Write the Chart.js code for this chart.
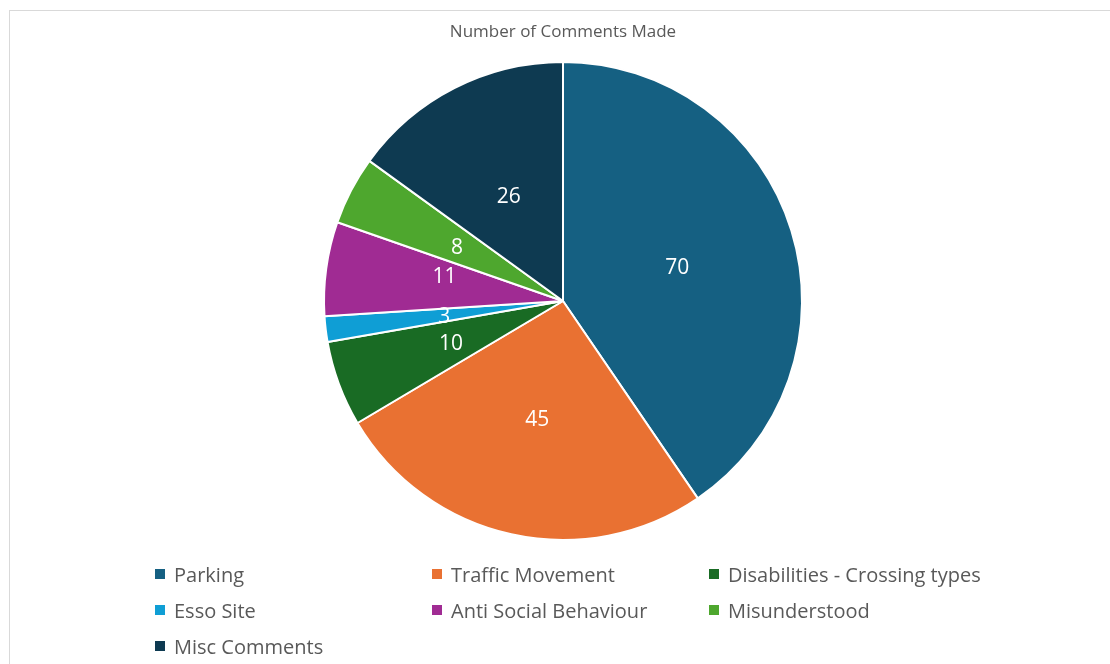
<!DOCTYPE html>
<html>
<head>
<meta charset="utf-8">
<script src="https://cdn.jsdelivr.net/npm/chart.js@4"></script>
<style>
  html, body { margin: 0; padding: 0; background: #fff; width: 1110px; height: 664px; overflow: hidden; }
  #frame { position: absolute; left: 9px; top: 10px; width: 1200px; height: 700px; border: 1px solid #d9d9d9; box-sizing: border-box; }
  #wrap { position: absolute; left: 0; top: 0; width: 1110px; height: 664px; }
  #legend { position: absolute; left: 155px; top: 556px; display: grid; grid-template-columns: 277px 277px 300px; row-gap: 0; font-family: "Open Sans", sans-serif; font-size: 20px; color: #595959; }
  #legend .item { height: 36px; display: flex; align-items: center; white-space: nowrap; }
  #legend .sw { width: 10px; height: 10px; margin-right: 9px; flex: none; }
</style>
</head>
<body>
<div id="frame"></div>
<div id="wrap"><canvas id="c" width="1110" height="664"></canvas></div>
<div id="legend"></div>
<script>
const chartTitle = "Number of Comments Made";
const categories = ["Parking", "Traffic Movement", "Disabilities - Crossing types", "Esso Site", "Anti Social Behaviour", "Misunderstood", "Misc Comments"];
const commentCounts = [70, 45, 10, 3, 11, 8, 26];
const sliceColors = ["#156082", "#E97132", "#196B24", "#0F9ED5", "#A02B93", "#4EA72E", "#0E3A51"];

const labelNudge = { 4: -10 };

const valueLabels = {
  id: "valueLabels",
  afterDatasetsDraw(chart) {
    const ctx = chart.ctx;
    const meta = chart.getDatasetMeta(0);
    ctx.save();
    ctx.fillStyle = "#ffffff";
    ctx.font = '21px "Open Sans", sans-serif';
    ctx.textAlign = "center";
    ctx.textBaseline = "middle";
    meta.data.forEach((arc, i) => {
      const p = arc.getCenterPoint();
      ctx.fillText(String(chart.data.datasets[0].data[i]), p.x, p.y + 2 + (labelNudge[i] || 0));
    });
    ctx.restore();
  }
};

new Chart(document.getElementById("c"), {
  type: "pie",
  data: {
    labels: categories,
    datasets: [{
      data: commentCounts,
      backgroundColor: sliceColors,
      borderColor: "#ffffff",
      borderWidth: 2
    }]
  },
  options: {
    responsive: false,
    animation: false,
    radius: 239,
    layout: { padding: { left: 16, right: 0, top: 0, bottom: 104.2 } },
    plugins: {
      legend: { display: false },
      tooltip: { enabled: false },
      title: {
        display: true,
        text: chartTitle,
        color: "#595959",
        font: { family: "Open Sans", size: 17, weight: "normal", lineHeight: 1.2 },
        padding: { top: 21.8, bottom: 0 }
      }
    }
  },
  plugins: [valueLabels]
});

const legendEl = document.getElementById("legend");
categories.forEach((name, i) => {
  const item = document.createElement("div");
  item.className = "item";
  const sw = document.createElement("span");
  sw.className = "sw";
  sw.style.background = sliceColors[i];
  const tx = document.createElement("span");
  tx.textContent = name;
  item.appendChild(sw);
  item.appendChild(tx);
  legendEl.appendChild(item);
});
</script>
</body>
</html>
